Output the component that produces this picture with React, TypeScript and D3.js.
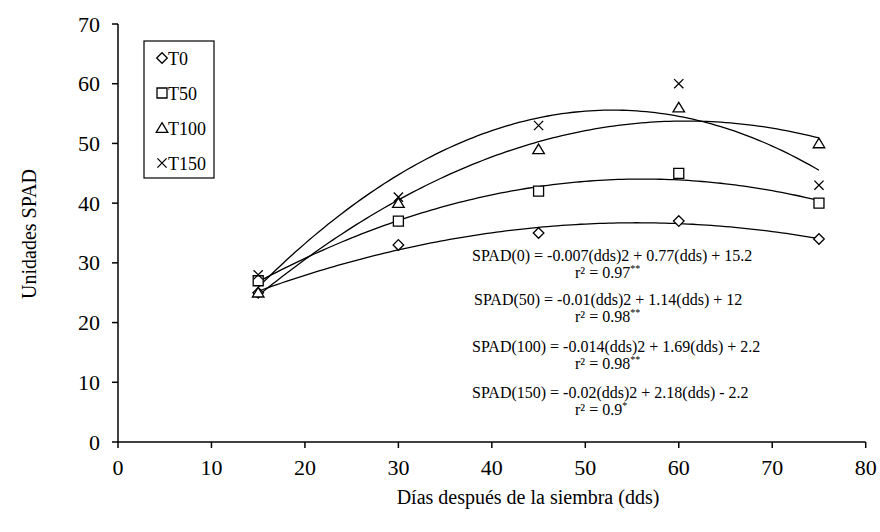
import React from "react";
import * as d3 from "d3";

const days = [15, 30, 45, 60, 75];
const t0 = [25, 33, 35, 37, 34];
const t50 = [27, 37, 42, 45, 40];
const t100 = [25, 40, 49, 56, 50];
const t150 = [28, 41, 53, 60, 43];
const seriesNames = ["T0", "T50", "T100", "T150"];
const markerKinds = ["diamond", "square", "triangle", "cross"];
const xTicks = [0, 10, 20, 30, 40, 50, 60, 70, 80];
const yTicks = [0, 10, 20, 30, 40, 50, 60, 70];
const equations = [
  "SPAD(0) = -0.007(dds)2 + 0.77(dds) + 15.2",
  "SPAD(50) = -0.01(dds)2 + 1.14(dds) + 12",
  "SPAD(100) = -0.014(dds)2 + 1.69(dds) + 2.2",
  "SPAD(150) = -0.02(dds)2 + 2.18(dds) - 2.2",
];
const r2Values = ["0.97", "0.98", "0.98", "0.9"];
const r2Stars = ["**", "**", "**", "*"];

const allSeries = [t0, t50, t100, t150];

function polyfit2(xs: number[], ys: number[]): number[] {
  // least-squares quadratic y = a + b x + c x^2
  const S = (p: number) => d3.sum(xs, (x) => Math.pow(x, p));
  const T = (p: number) => d3.sum(xs.map((x, i) => Math.pow(x, p) * ys[i]));
  const M = [
    [S(0), S(1), S(2), T(0)],
    [S(1), S(2), S(3), T(1)],
    [S(2), S(3), S(4), T(2)],
  ];
  for (let i = 0; i < 3; i++) {
    for (let k = i + 1; k < 3; k++) {
      const f = M[k][i] / M[i][i];
      for (let j = i; j < 4; j++) M[k][j] -= f * M[i][j];
    }
  }
  const r = [0, 0, 0];
  for (let i = 2; i >= 0; i--) {
    let s = M[i][3];
    for (let j = i + 1; j < 3; j++) s -= M[i][j] * r[j];
    r[i] = s / M[i][i];
  }
  return r;
}

function markerPath(kind: string): string {
  const h = 5.3;
  switch (kind) {
    case "diamond":
      return `M0,${-h}L${h},0L0,${h}L${-h},0Z`;
    case "square":
      return `M${-h + 0.3},${-h + 0.3}H${h - 0.3}V${h - 0.3}H${-h + 0.3}Z`;
    case "triangle":
      return `M0,${-h}L${h + 0.5},${h - 1}L${-h - 0.5},${h - 1}Z`;
    default: {
      const c = 4.6;
      return `M${-c},${-c}L${c},${c}M${c},${-c}L${-c},${c}`;
    }
  }
}

const FONT = "'Liberation Serif', 'Times New Roman', serif";

export default function App() {
  const W = 880;
  const H = 532;
  const x = d3.scaleLinear().domain([0, 80]).range([118, 865.7]);
  const y = d3.scaleLinear().domain([0, 70]).range([442, 24]);

  const xs = d3.range(days[0], days[days.length - 1] + 0.001, 0.5);

  const curves = allSeries.map((vals) => {
    const [a, b, c] = polyfit2(days, vals);
    const pts = xs.map((xv) => [xv, a + b * xv + c * xv * xv]);
    return d3
      .line<number[]>()
      .x((d) => x(d[0]))
      .y((d) => y(d[1]))(pts);
  });

  const tick = 6;
  const eqBase = [261, 305, 352, 398];
  const eqX = [472, 474, 472, 472];

  return (
    <svg
      width={W}
      height={H}
      style={{ position: "absolute", left: 0, top: 0, background: "#fff" }}
      fontFamily={FONT}
    >
      <rect width={W} height={H} fill="#fff" />
      {/* axes */}
      <g stroke="#000" strokeWidth={1.5} fill="none">
        <line x1={x(0)} x2={x(80)} y1={y(0)} y2={y(0)} />
        <line x1={x(0)} x2={x(0)} y1={y(0)} y2={y(70)} />
        {xTicks.map((t) => (
          <line key={"xt" + t} x1={x(t)} x2={x(t)} y1={y(0)} y2={y(0) + tick} />
        ))}
        {yTicks.map((t) => (
          <line key={"yt" + t} x1={x(0) - tick} x2={x(0)} y1={y(t)} y2={y(t)} />
        ))}
      </g>
      <g fontSize={22} fill="#000">
        {xTicks.map((t) => (
          <text key={"xl" + t} x={x(t)} y={y(0) + 33} textAnchor="middle">
            {t}
          </text>
        ))}
        {yTicks.map((t) => (
          <text key={"yl" + t} x={x(0) - 18} y={y(t) + 7.5} textAnchor="end">
            {t}
          </text>
        ))}
      </g>
      <text x={528} y={504} fontSize={20} textAnchor="middle">
        Días después de la siembra (dds)
      </text>
      <text
        transform={`translate(36,234) rotate(-90)`}
        fontSize={20}
        textAnchor="middle"
      >
        Unidades SPAD
      </text>

      {/* fitted curves */}
      <g fill="none" stroke="#000" strokeWidth={1.3}>
        {curves.map((d, i) => (
          <path key={"c" + i} d={d || ""} />
        ))}
      </g>

      {/* markers */}
      {allSeries.map((vals, si) => (
        <g key={"s" + si} stroke="#000" strokeWidth={1.3}>
          {vals.map((v, i) => (
            <path
              key={i}
              d={markerPath(markerKinds[si])}
              transform={`translate(${x(days[i])},${y(v)})`}
              fill={markerKinds[si] === "cross" ? "none" : "#fff"}
            />
          ))}
        </g>
      ))}

      {/* legend */}
      <rect x={144} y={41} width={70} height={137} fill="#fff" stroke="#000" strokeWidth={1.2} />
      {seriesNames.map((n, i) => {
        const ly = 58 + i * 35;
        return (
          <g key={"lg" + i}>
            <path
              d={markerPath(markerKinds[i])}
              transform={`translate(162,${ly})`}
              fill={markerKinds[i] === "cross" ? "none" : "#fff"}
              stroke="#000"
              strokeWidth={1.3}
            />
            <text x={168} y={ly + 6.5} fontSize={18}>
              {n}
            </text>
          </g>
        );
      })}

      {/* equations */}
      <g fontSize={16} fill="#000">
        {equations.map((e, i) => (
          <g key={"eq" + i}>
            <text x={eqX[i]} y={eqBase[i]}>
              {e}
            </text>
            <text x={575} y={eqBase[i] + 17}>
              {"r² = " + r2Values[i]}
              <tspan fontSize={10} dy={-6}>
                {r2Stars[i]}
              </tspan>
            </text>
          </g>
        ))}
      </g>
    </svg>
  );
}
